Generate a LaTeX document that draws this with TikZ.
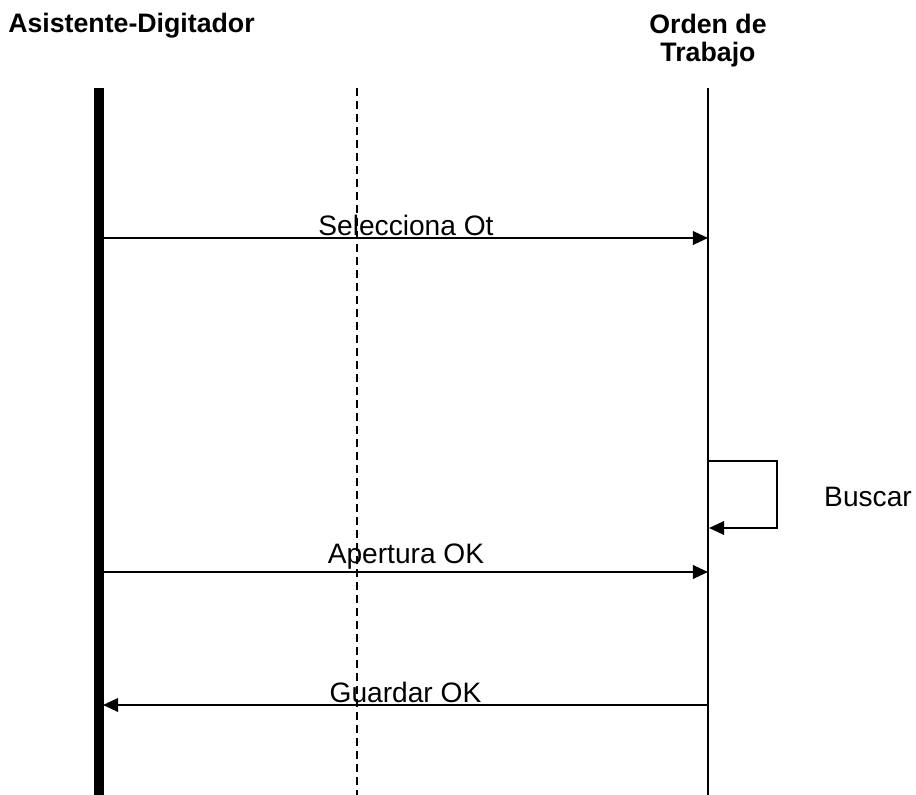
\documentclass[tikz,border=0pt]{standalone}
\usepackage{fontspec}
\setmainfont{Liberation Sans}
\usetikzlibrary{arrows.meta,positioning}

\begin{document}
\begin{tikzpicture}[
    x=0.025cm,
    y=-0.025cm,
    actor/.style={
        font=\fontsize{19}{20}\selectfont\bfseries,
        align=center,
        inner sep=0pt
    },
    mainline/.style={
        line width=0.23cm
    },
    lifeline/.style={
        line width=1pt
    },
    guide/.style={
        line width=1pt,
        dash pattern=on 0.2cm off 0.125cm
    },
    msg/.style={
        -{Triangle[length=0.38cm,width=0.34cm]},
        line width=1.5pt
    },
    msglabel/.style={
        font=\fontsize{20}{22}\selectfont,
        inner sep=1pt,
        above
    }
]

\useasboundingbox (0,0) rectangle (916,795);

%---------------------------------------------------------------------
% Actors
%---------------------------------------------------------------------

\node[actor, anchor=west] (asis) at (8,26) {Asistente-Digitador};
\node[actor] (orden) at (708,41) {Orden de\\Trabajo};

%---------------------------------------------------------------------
% Lifelines
%---------------------------------------------------------------------

\coordinate (asis top) at (99,88);
\coordinate (asis bot) at (99,795);
\coordinate (mid top) at (357,88);
\coordinate (mid bot) at (357,795);
\coordinate (orden top) at (708,88);
\coordinate (orden bot) at (708,795);

\draw[mainline] (asis top) -- (asis bot);
\draw[guide] (mid top) -- (mid bot);
\draw[lifeline] (orden top) -- (orden bot);

%---------------------------------------------------------------------
% Messages
%---------------------------------------------------------------------

\coordinate (a1) at (104,238);
\coordinate (o1) at (708,238);
\coordinate (o2) at (708,461);
\coordinate (o3) at (709,528);
\coordinate (a4) at (104,572);
\coordinate (o4) at (708,572);
\coordinate (a5) at (103,705);
\coordinate (o5) at (708,705);

\draw[msg] (a1) -- node[msglabel] {Selecciona Ot} (o1);
\draw[msg] (o2) -- ++(69,0) |- (o3);
\draw[msg] (a4) -- node[msglabel] {Apertura OK} (o4);
\draw[msg] (o5) -- node[msglabel] {Guardar OK} (a5);

\node[font=\fontsize{20}{22}\selectfont] (buscar) at (868,497) {Buscar};

\end{tikzpicture}
\end{document}
